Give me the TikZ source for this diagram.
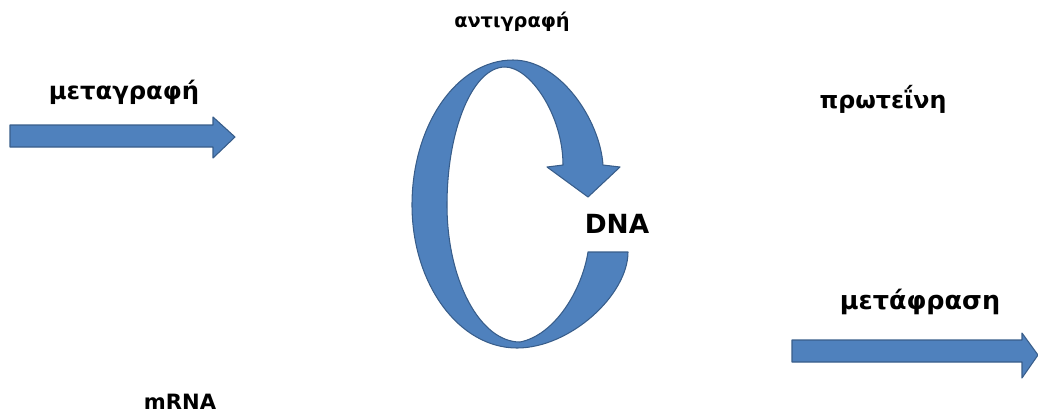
\documentclass[tikz,border=0pt]{standalone}
\usepackage{fontspec}
\setmainfont{DejaVu Sans}
\definecolor{arrowblue}{RGB}{79,129,189}
\definecolor{arrowedge}{RGB}{56,93,138}
\begin{document}
\begin{tikzpicture}[x=0.02cm,y=-0.02cm,
  every node/.style={font=\bfseries,inner sep=0pt,anchor=base},
  blockarrow/.style={fill=arrowblue,draw=arrowedge,line width=0.6pt,line join=round}]
\useasboundingbox (0,0) rectangle (1038,417);
% transcription, on the left
\draw[blockarrow] (10,125) -- (213,125) -- (213,117) -- (235,137) -- (213,158) -- (213,147) -- (10,147) -- cycle;
\node[font=\fontsize{13.8}{16}\bfseries] (metagrafi) at (124,99) {μεταγραφή};
% replication ribbon round DNA
\filldraw[blockarrow] (563,165)
  .. controls (563,115) and (530,67) .. (505,67)
  .. controls (473,67) and (447,129) .. (447,205)
  .. controls (447,280) and (480,342) .. (520,342)
  .. controls (555,335) and (582,290) .. (588,252)
  -- (628,252)
  .. controls (628,295) and (570,348) .. (517,348)
  .. controls (459,348) and (412,284) .. (412,205)
  .. controls (412,125) and (457,60) .. (513,60)
  .. controls (560,60) and (600,120) .. (603,165)
  -- (620,167) -- (588,197) -- (547,167) -- cycle;
\node[font=\fontsize{11}{13}\bfseries] (antigrafi) at (512,27) {αντιγραφή};
\node[font=\fontsize{15}{17}\bfseries] (dna) at (617,233) {DNA};
% translation, on the right
\draw[blockarrow] (792,340) -- (1022,340) -- (1022,333) -- (1038,355) -- (1022,378) -- (1022,362) -- (792,362) -- cycle;
\node[font=\fontsize{14.5}{17}\bfseries] (metafrasi) at (920,309) {μετάφραση};
\node[font=\fontsize{13.5}{16}\bfseries] (proteini) at (883,108) {πρωτε\char"0390 νη};
\node[font=\fontsize{12}{14}\bfseries] (mrna) at (180,409) {mRNA};
\end{tikzpicture}
\end{document}
